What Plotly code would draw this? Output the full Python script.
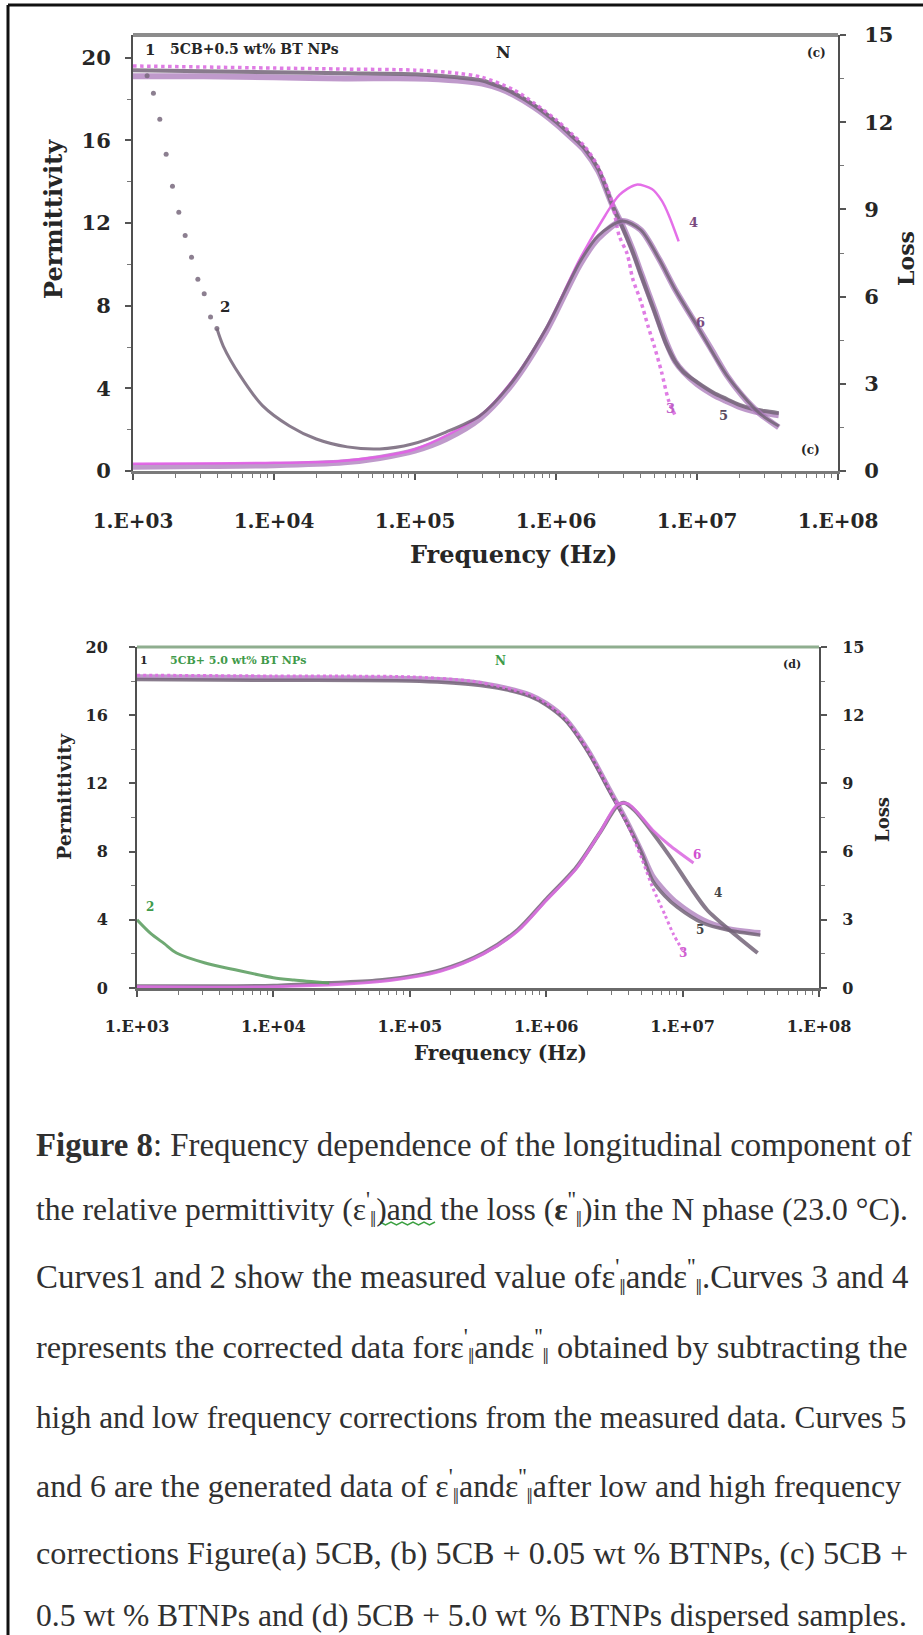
import plotly.graph_objects as go

W, H = 923, 1635


def px(x):
    return x / W


def py(y):
    return 1 - y / H


# ---------------- axis ticks ----------------
x_tick_vals = [1e3, 1e4, 1e5, 1e6, 1e7, 1e8]
x_tick_text = ["1.E+03", "1.E+04", "1.E+05", "1.E+06", "1.E+07", "1.E+08"]
x_minor_vals = [m * d for d in [1e3, 1e4, 1e5, 1e6, 1e7] for m in range(2, 10)]
perm_ticks = [0, 4, 8, 12, 16, 20]
perm_minor = [2, 6, 10, 14, 18]
loss_ticks = [0, 3, 6, 9, 12, 15]
loss_minor = [1.5, 4.5, 7.5, 10.5, 13.5]

# ---------------- panel (c): 5CB + 0.5 wt% BT NPs ----------------
c_eps_f = [1000, 3162, 1e4, 31620, 1e5, 2e5, 3e5, 4e5, 5e5, 7e5, 1e6, 1.3e6, 1.6e6,
           2e6, 2.5e6, 3e6, 3.5e6, 4e6, 5e6, 6e6, 7e6, 8e6, 1e7, 1.3e7, 1.6e7, 2e7,
           2.5e7, 3e7, 3.8e7]
c_eps1 = [19.4, 19.35, 19.3, 19.25, 19.2, 19.05, 18.9, 18.6, 18.3, 17.7, 16.9, 16.2, 15.6,
          14.6, 12.9, 11.7, 10.6, 9.5, 7.7, 6.2, 5.3, 4.8, 4.3, 3.8, 3.5, 3.2,
          3.0, 2.9, 2.8]
c_eps5 = [19.1, 19.1, 19.05, 19.0, 19.0, 18.9, 18.75, 18.5, 18.2, 17.6, 16.8, 16.1, 15.5,
          14.5, 12.9, 11.8, 10.7, 9.6, 7.8, 6.3, 5.3, 4.8, 4.2, 3.7, 3.4, 3.1,
          2.9, 2.8, 2.7]
c_eps3_f = [1000, 3162, 1e4, 31620, 1e5, 2e5, 3e5, 5e5, 7e5, 1e6, 1.3e6, 1.6e6, 2e6,
            2.5e6, 2.8e6, 3.2e6, 3.5e6, 4e6, 4.5e6, 5e6, 5.6e6, 6.3e6, 7.1e6]
c_eps3 = [19.6, 19.55, 19.5, 19.45, 19.4, 19.25, 19.05, 18.45, 17.8, 17.0, 16.3, 15.7, 14.7,
          13.0, 11.4, 10.5, 9.3, 8.2, 7.0, 6.0, 4.8, 3.4, 2.6]

c_loss2_dot_f = [1259, 1396, 1549, 1718, 1905, 2113, 2344, 2600, 2884, 3199, 3548, 3936]
c_loss2_dot = [13.6, 13.0, 12.1, 10.9, 9.8, 8.9, 8.1, 7.35, 6.6, 6.1, 5.3, 4.9]
c_loss2_f = [3936, 4365, 5754, 8318, 12880, 19950, 33110, 56230, 95500, 165960, 288400,
             489800, 851100, 1.479e6, 1.995e6, 2.951e6, 3.981e6, 5.37e6, 7.079e6, 1e7,
             1.622e7, 2.754e7, 3.802e7]
c_loss2 = [4.9, 4.3, 3.28, 2.24, 1.55, 1.1, 0.83, 0.76, 0.93, 1.34, 1.9,
           3.07, 4.9, 7.2, 8.1, 8.6, 8.3, 7.3, 6.2, 5.0,
           3.3, 2.0, 1.55]
c_loss6_f = [1000, 3162, 1e4, 31620, 56230, 1e5, 166000, 288400, 489800, 851100, 1.479e6,
             1.995e6, 2.951e6, 3.981e6, 5.37e6, 7.079e6, 1e7, 1.259e7, 1.622e7, 2.089e7,
             2.754e7, 3.802e7]
c_loss6 = [0.15, 0.17, 0.2, 0.3, 0.45, 0.7, 1.1, 1.8, 3.0, 4.8, 7.1,
           8.0, 8.6, 8.3, 7.3, 6.2, 5.0, 4.2, 3.3, 2.6,
           2.0, 1.5]
c_loss4_f = [1000, 1e4, 31620, 1e5, 288400, 489800, 851100, 1.479e6, 2.239e6, 2.818e6,
             3.715e6, 4.786e6, 5.623e6, 6.31e6, 7.413e6]
c_loss4 = [0.25, 0.28, 0.35, 0.75, 1.9, 3.1, 4.9, 7.3, 8.8, 9.5,
           9.85, 9.7, 9.3, 8.8, 7.9]

# ---------------- panel (d): 5CB + 5.0 wt% BT NPs ----------------
d_eps_f = [1000, 1e4, 1e5, 2.818e5, 5.012e5, 7.586e5, 1e6, 1.38e6, 2.042e6, 2.884e6,
           3.89e6, 5.012e6, 6.026e6, 7.413e6, 9.12e6, 1.413e7, 2.138e7, 3.715e7]
d_eps1 = [18.1, 18.05, 18.0, 17.8, 17.5, 17.1, 16.6, 15.7, 13.8, 11.6,
          9.7, 7.9, 6.3, 5.4, 4.75, 3.8, 3.4, 3.1]
d_eps5 = [18.25, 18.2, 18.15, 17.95, 17.6, 17.2, 16.7, 15.8, 13.9, 11.7,
          9.8, 8.0, 6.6, 5.7, 5.0, 4.0, 3.5, 3.25]
d_eps3_f = [1000, 1e4, 1e5, 2.818e5, 5.012e5, 7.586e5, 1e6, 1.38e6, 2.042e6, 2.884e6,
            3.89e6, 5.012e6, 6.026e6, 7.413e6, 8.511e6, 1e7]
d_eps3 = [18.35, 18.3, 18.25, 18.0, 17.6, 17.2, 16.7, 15.8, 13.9, 11.7,
          9.7, 7.6, 5.9, 4.3, 3.2, 2.2]

d_loss2_f = [1000, 1259, 1585, 1950, 3162, 5248, 1e4, 14130, 25700]
d_loss2 = [3.0, 2.4, 1.95, 1.54, 1.1, 0.8, 0.45, 0.35, 0.22]
d_loss4_f = [1000, 1e4, 25700, 63100, 1.698e5, 3.467e5, 6.166e5, 1e6, 1.66e6, 2.455e6,
             3.311e6, 3.715e6, 4.467e6, 8.128e6, 1.122e7, 1.514e7, 2.344e7, 3.548e7]
d_loss4 = [0.08, 0.1, 0.22, 0.35, 0.8, 1.54, 2.55, 3.9, 5.3, 6.8,
           8.0, 8.15, 7.8, 5.76, 4.5, 3.43, 2.42, 1.54]
d_loss6_f = [1000, 1e4, 63100, 1.698e5, 3.467e5, 6.166e5, 1e6, 1.66e6, 2.455e6, 3.311e6,
             3.981e6, 6.026e6, 7.943e6, 1.202e7]
d_loss6 = [0.05, 0.06, 0.3, 0.75, 1.5, 2.5, 3.85, 5.25, 6.8, 8.05,
           8.1, 6.95, 6.3, 5.5]

# ---------------- caption ----------------
E1 = "ε<sup>'</sup><sub>‖</sub>"
E2 = "ε<sup>''</sup><sub>‖</sub>"
caption_lines = [
    "<b>Figure 8</b>: Frequency dependence of the longitudinal component of",
    "the relative permittivity (" + E1 + ")and the loss (<b>ε</b><sup>''</sup><sub>‖</sub>)in the N phase (23.0 °C).",
    "Curves1 and 2 show the measured value of" + E1 + "and" + E2 + ".Curves 3 and 4",
    "represents the corrected data for" + E1 + "and" + E2 + " obtained by subtracting the",
    "high and low frequency corrections from the measured data. Curves 5",
    "and 6 are the generated data of " + E1 + "and" + E2 + "after low and high frequency",
    "corrections Figure(a) 5CB, (b) 5CB + 0.05 wt % BTNPs, (c) 5CB +",
    "0.5 wt % BTNPs and (d) 5CB + 5.0 wt % BTNPs dispersed samples.",
]
caption_y = [1145, 1209, 1276, 1346, 1417, 1486, 1553, 1615]
caption_size = [32.8, 31.6, 32.9, 32.3, 31.2, 31.9, 32.2, 31.6]

GREY = "rgba(115,100,120,0.85)"
PURP = "rgba(170,120,185,0.75)"
PINK = "rgba(220,110,225,0.9)"
MAG = "rgba(225,95,230,0.9)"
GREEN = "rgba(95,160,100,0.9)"

fig = go.Figure()


def line(x, y, xa, ya, color, width, dash="solid"):
    fig.add_trace(go.Scatter(x=x, y=y, xaxis=xa, yaxis=ya, mode="lines",
                             line=dict(color=color, width=width, dash=dash, shape="spline", smoothing=0.8),
                             showlegend=False, hoverinfo="skip"))


# panel (c)
line(c_loss6_f, c_loss6, "x", "y3", PURP, 6)
line(c_loss4_f, c_loss4, "x", "y3", MAG, 2.5)
line(c_loss2_f, c_loss2, "x", "y3", GREY, 3)
fig.add_trace(go.Scatter(x=c_loss2_dot_f, y=c_loss2_dot, xaxis="x", yaxis="y3", mode="markers",
                         marker=dict(color="rgba(120,105,125,0.85)", size=5),
                         showlegend=False, hoverinfo="skip"))
line(c_eps_f, c_eps5, "x", "y", PURP, 6)
line(c_eps_f, c_eps1, "x", "y", GREY, 4)
line(c_eps3_f, c_eps3, "x", "y", PINK, 3.5, "dot")

# panel (d)
line(d_loss4_f, d_loss4, "x2", "y4", GREY, 4)
line(d_loss6_f, d_loss6, "x2", "y4", PINK, 3)
line(d_loss2_f, d_loss2, "x2", "y4", GREEN, 3)
line(d_eps_f, d_eps5, "x2", "y2", PURP, 5)
line(d_eps_f, d_eps1, "x2", "y2", GREY, 3.5)
line(d_eps3_f, d_eps3, "x2", "y2", PINK, 3, "dot")

FONT = "DejaVu Serif"
TXT = "#262626"


def xaxis_cfg(dom, anchor, size, lw, lc, standoff):
    return dict(type="log", range=[3, 8], domain=dom, anchor=anchor, automargin=False,
                tickmode="array", tickvals=x_tick_vals, ticktext=x_tick_text,
                ticks="outside", ticklen=6, tickwidth=1.5, tickcolor="#555",
                minor=dict(tickmode="array", tickvals=x_minor_vals, ticks="outside",
                           ticklen=4, tickcolor="#777", tickwidth=1),
                showline=True, linecolor=lc, linewidth=lw, showgrid=False, zeroline=False,
                tickfont=dict(family=FONT, size=size, color=TXT, weight="bold"),
                ticklabelstandoff=standoff)


def yaxis_cfg(rng, dom, anchor, ticks, minor, size, standoff, side="left", overlay=None):
    d = dict(range=rng, anchor=anchor, side=side, tickmode="array", tickvals=ticks,
             automargin=False,
             ticks="outside", ticklen=6, tickwidth=1.5, tickcolor="#555",
             minor=dict(tickmode="array", tickvals=minor, ticks="outside", ticklen=4,
                        tickcolor="#777", tickwidth=1),
             showline=True, linecolor="#505050", linewidth=2, showgrid=False, zeroline=False,
             tickfont=dict(family=FONT, size=size, color=TXT, weight="bold"),
             ticklabelstandoff=standoff)
    if overlay:
        d["overlaying"] = overlay
    else:
        d["domain"] = dom
    return d


p1x = [px(133), px(838)]
p1y = [py(471), py(35)]
p2x = [px(137), px(819)]
p2y = [py(988), py(647)]

fig.update_layout(
    template="none",
    width=W, height=H, margin=dict(l=0, r=0, t=0, b=0, pad=0, autoexpand=False),
    paper_bgcolor="white", plot_bgcolor="white", showlegend=False,
    xaxis=xaxis_cfg(p1x, "y", 20, 3, "#7a7a7a", 24),
    yaxis=yaxis_cfg([0, 21.1], p1y, "x", perm_ticks, perm_minor, 21, 10),
    yaxis3=yaxis_cfg([0, 15], None, "x", loss_ticks, loss_minor, 21, 14, side="right", overlay="y"),
    xaxis2=xaxis_cfg(p2x, "y2", 16, 2.5, "#6a6a6a", 16),
    yaxis2=yaxis_cfg([0, 20], p2y, "x2", perm_ticks, perm_minor, 16, 18),
    yaxis4=yaxis_cfg([0, 15], None, "x2", loss_ticks, loss_minor, 16, 12, side="right", overlay="y2"),
)

shapes = [
    # outer frame
    dict(type="line", xref="paper", yref="paper", x0=px(8), x1=1, y0=py(5), y1=py(5),
         line=dict(color="#111", width=3)),
    dict(type="line", xref="paper", yref="paper", x0=px(8), x1=px(8), y0=py(5), y1=0,
         line=dict(color="#111", width=3)),
    # panel top borders
    dict(type="line", xref="paper", yref="paper", x0=p1x[0], x1=p1x[1], y0=p1y[1], y1=p1y[1],
         line=dict(color="#8c8c8c", width=4)),
    dict(type="line", xref="paper", yref="paper", x0=p2x[0], x1=p2x[1], y0=p2y[1], y1=p2y[1],
         line=dict(color="#8fae8f", width=3)),
]

ann = []


def txt(x, y, s, size, color=TXT, bold=True, angle=0, xanchor="center", family=FONT):
    ann.append(dict(x=px(x), y=py(y), xref="paper", yref="paper", text=s, showarrow=False,
                    xanchor=xanchor, yanchor="middle", textangle=angle,
                    font=dict(family=family, size=size, color=color,
                              weight="bold" if bold else "normal")))


# panel (c) titles and labels
txt(54, 219, "Permittivity", 24, angle=-90)
txt(906, 259, "Loss", 22, angle=-90)
txt(513, 555, "Frequency (Hz)", 24)
txt(150, 50, "1", 15)
txt(168, 49, "5CB+0.5 wt% BT NPs", 14, xanchor="left")
txt(503, 52, "N", 16)
txt(816, 53, "(c)", 12)
txt(810, 450, "(c)", 12)
txt(225, 307, "2", 15)
txt(693, 223, "4", 13, color="#7a4a80")
txt(700, 322, "6", 13, color="#7a4a80")
txt(670, 408, "3", 13, color="#c060c8")
txt(723, 415, "5", 13, color="#5a4a60")

# panel (d) titles and labels
txt(64, 797, "Permittivity", 19, angle=-90)
txt(883, 820, "Loss", 18, angle=-90)
txt(500, 1053, "Frequency (Hz)", 20)
txt(144, 660, "1", 11)
txt(168, 660, "5CB+ 5.0 wt% BT NPs", 11, color="#3f9a4a", xanchor="left")
txt(500, 661, "N", 12, color="#3f9a4a")
txt(792, 665, "(d)", 11)
txt(150, 907, "2", 12, color="#3f9a4a")
txt(697, 855, "6", 12, color="#d050d0")
txt(718, 893, "4", 12, color="#444")
txt(700, 930, "5", 12, color="#444")
txt(683, 953, "3", 12, color="#d060d0")

# caption
for s, y, fs in zip(caption_lines, caption_y, caption_size):
    ann.append(dict(x=px(34), y=py(y), xref="paper", yref="paper", text=s, showarrow=False,
                    xanchor="left", yanchor="middle",
                    font=dict(family="Liberation Serif", size=fs, color="#303030")))

# spell-check squiggle under "and" in the second caption line
zz = "M %.5f,%.5f" % (px(380), py(1222))
for i in range(1, 11):
    zz += " L %.5f,%.5f" % (px(380 + 5.5 * i), py(1222 + (3 if i % 2 else 0)))
shapes.append(dict(type="path", xref="paper", yref="paper", path=zz,
                   line=dict(color="#3aa040", width=1.5)))
fig.update_layout(annotations=ann, shapes=shapes)

fig.write_html("out.html")
